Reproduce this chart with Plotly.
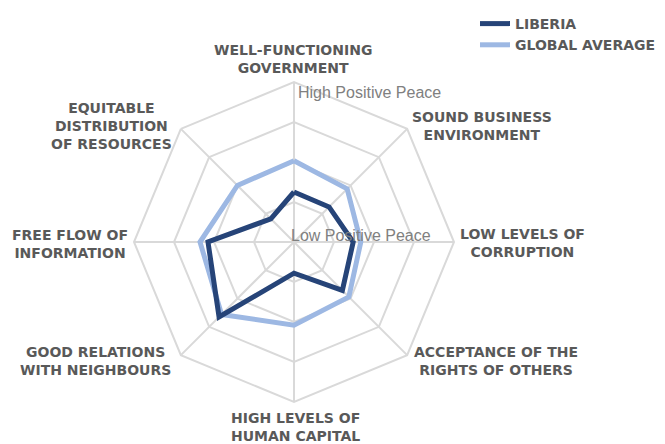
import plotly.graph_objects as go

W, H = 665, 444

categories = [
    "WELL-FUNCTIONING<br>GOVERNMENT",
    "SOUND BUSINESS<br>ENVIRONMENT",
    "LOW LEVELS OF<br>CORRUPTION",
    "ACCEPTANCE OF THE<br>RIGHTS OF OTHERS",
    "HIGH LEVELS OF<br>HUMAN CAPITAL",
    "GOOD RELATIONS<br>WITH NEIGHBOURS",
    "FREE FLOW OF<br>INFORMATION",
    "EQUITABLE<br>DISTRIBUTION<br>OF RESOURCES",
]
liberia = [1.25, 1.24, 1.48, 1.71, 0.78, 2.65, 2.15, 0.82]
global_avg = [2.03, 1.88, 1.67, 1.94, 2.08, 2.56, 2.35, 2.0]
radial_ticktext = ["Low Positive Peace", "High Positive Peace"]

cx, cy, R = 294, 242, 160

def px(x):
    return x / W

def py(y):
    return 1 - y / H

LABEL_FONT = dict(family="DejaVu Sans", size=14, color="#595959", weight="bold")

fig = go.Figure()
fig.add_trace(go.Scatterpolar(
    r=global_avg + global_avg[:1], theta=categories + categories[:1],
    mode="lines", name="GLOBAL AVERAGE",
    line=dict(color="#9DB8E3", width=5),
))
fig.add_trace(go.Scatterpolar(
    r=liberia + liberia[:1], theta=categories + categories[:1],
    mode="lines", name="LIBERIA",
    line=dict(color="#264478", width=5),
))

grid = "#d9d9d9"
fig.update_layout(
    width=W, height=H,
    margin=dict(l=0, r=0, t=0, b=0),
    paper_bgcolor="white", plot_bgcolor="white",
    polar=dict(
        domain=dict(x=[px(cx - R), px(cx + R)], y=[py(cy + R), py(cy - R)]),
        bgcolor="white",
        gridshape="linear",
        radialaxis=dict(range=[0, 4], dtick=1, showline=False, showticklabels=False,
                        ticks="", gridcolor=grid, gridwidth=2),
        angularaxis=dict(direction="clockwise", rotation=90, showticklabels=False,
                         ticks="", gridcolor=grid, gridwidth=2, linecolor=grid, linewidth=2,
                         categoryorder="array", categoryarray=categories),
    ),
    legend=dict(x=px(475), y=py(8), xanchor="left", yanchor="top",
                font=LABEL_FONT, itemwidth=30, tracegroupgap=0, traceorder="reversed",
                bgcolor="rgba(0,0,0,0)"),
    showlegend=True,
)

label_pos = [
    (293, 59), (482, 126), (522, 243), (496, 361),
    (295, 427), (95, 361), (70, 244), (111, 126),
]
ann = []
for txt, (x, y) in zip(categories, label_pos):
    ann.append(dict(text=txt, x=px(x), y=py(y), xref="paper", yref="paper",
                    xanchor="center", yanchor="middle", showarrow=False, align="center",
                    font=LABEL_FONT))
ann.append(dict(text=radial_ticktext[1], x=px(296), y=py(93), xref="paper", yref="paper",
                xanchor="left", yanchor="middle", showarrow=False,
                font=dict(family="Liberation Sans", size=16, color="#808080")))
ann.append(dict(text=radial_ticktext[0], x=px(289), y=py(235), xref="paper", yref="paper",
                xanchor="left", yanchor="middle", showarrow=False,
                font=dict(family="Liberation Sans", size=16, color="#808080")))
fig.update_layout(annotations=ann)

fig.write_html("out.html", config={"displayModeBar": False},
               post_script="document.body.style.margin='0';")
